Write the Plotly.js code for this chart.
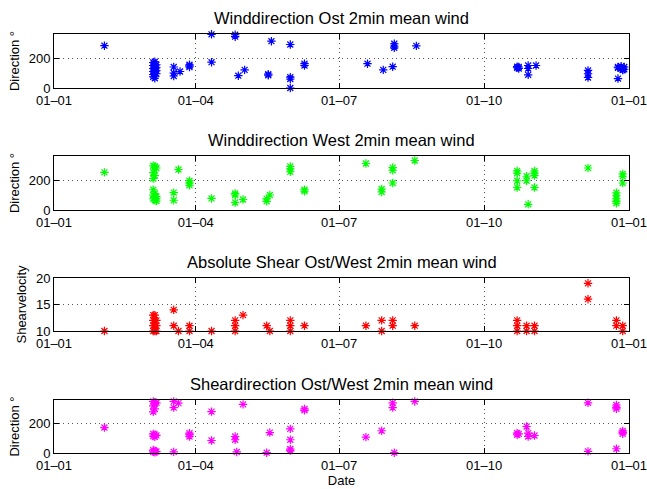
<!DOCTYPE html>
<html>
<head>
<meta charset="utf-8">
<script src="https://cdn.plot.ly/plotly-3.0.1.min.js"></script>
<style>html,body{margin:0;padding:0;background:#fff;}#chart{width:647px;height:489px;}</style>
</head>
<body>
<div id="chart"></div>
<script>
// ---- Data ----
const tickVals = ['2009-01-01', '2009-04-01', '2009-07-01', '2009-10-01', '2010-01-01'];
const tickText = ['01\u201301', '01\u201304', '01\u201307', '01\u201310', '01\u201301'];

const titles = [
  'Winddirection Ost 2min mean wind',
  'Winddirection West 2min mean wind',
  'Absolute Shear Ost/West 2min mean wind',
  'Sheardirection Ost/West 2min mean wind'
];
const yTitles = ['Direction \u00b0', 'Direction \u00b0', 'Shearvelocity', 'Direction \u00b0'];
const colors = ['#0000ff', '#00ff00', '#ff0000', '#ff00ff'];

// Panel 1: wind direction Ost
const ostDates = [
  '2009-02-02',
  '2009-03-05','2009-03-05','2009-03-05','2009-03-05','2009-03-05','2009-03-05',
  '2009-03-06','2009-03-06','2009-03-06','2009-03-06','2009-03-06','2009-03-06','2009-03-06',
  '2009-03-07','2009-03-07','2009-03-07','2009-03-07',
  '2009-03-18','2009-03-18','2009-03-18',
  '2009-03-22',
  '2009-03-28','2009-03-28','2009-03-28',
  '2009-04-11','2009-04-11',
  '2009-04-26','2009-04-26',
  '2009-04-28',
  '2009-05-02',
  '2009-05-17','2009-05-17',
  '2009-05-19',
  '2009-05-31','2009-05-31','2009-05-31','2009-05-31',
  '2009-06-09','2009-06-09',
  '2009-07-19',
  '2009-07-29',
  '2009-08-04',
  '2009-08-05','2009-08-05','2009-08-05',
  '2009-08-19',
  '2009-10-22','2009-10-22',
  '2009-10-23','2009-10-23',
  '2009-10-29','2009-10-29','2009-10-29',
  '2009-11-03',
  '2009-12-06','2009-12-06','2009-12-06',
  '2009-12-25','2009-12-25','2009-12-25',
  '2009-12-27','2009-12-27',
  '2009-12-28','2009-12-28',
  '2009-12-29','2009-12-29'
];
const ostDir = [
  282,
  170, 150, 130, 110, 90, 75,
  175, 160, 140, 120, 100, 80, 65,
  155, 135, 115, 95,
  140, 100, 80,
  110,
  155, 148, 140,
  358, 172,
  355, 342,
  82,
  121,
  92, 85,
  312,
  290, 72, 60, 0,
  162, 150,
  162,
  121,
  142,
  295, 280, 268,
  281,
  142, 135,
  140, 130,
  150, 130, 88,
  150,
  117, 95, 70,
  140, 135, 63,
  145, 130,
  125, 120,
  140, 125
];

// Panel 2: wind direction West
const westDates = [
  '2009-02-02',
  '2009-03-05','2009-03-05','2009-03-05','2009-03-05','2009-03-05','2009-03-05',
  '2009-03-06','2009-03-06','2009-03-06','2009-03-06','2009-03-06','2009-03-06',
  '2009-03-07','2009-03-07','2009-03-07','2009-03-07',
  '2009-03-18','2009-03-18',
  '2009-03-21',
  '2009-03-28','2009-03-28','2009-03-28',
  '2009-04-11',
  '2009-04-26','2009-04-26','2009-04-26',
  '2009-05-01',
  '2009-05-16','2009-05-16',
  '2009-05-18',
  '2009-05-31','2009-05-31','2009-05-31',
  '2009-06-09','2009-06-09',
  '2009-07-18',
  '2009-07-28','2009-07-28',
  '2009-08-04','2009-08-04','2009-08-04',
  '2009-08-18',
  '2009-10-22','2009-10-22','2009-10-22','2009-10-22',
  '2009-10-28','2009-10-28',
  '2009-10-29',
  '2009-11-02','2009-11-02','2009-11-02','2009-11-02',
  '2009-12-06',
  '2009-12-24','2009-12-24','2009-12-24','2009-12-24','2009-12-24',
  '2009-12-28','2009-12-28','2009-12-28'
];
const westDir = [
  251,
  295, 250, 210, 135, 100, 75,
  290, 285, 230, 110, 85, 65,
  280, 90, 75, 60,
  116, 65,
  270,
  195, 180, 165,
  77,
  110, 100, 50,
  70,
  58, 74,
  100,
  290, 275, 255,
  135, 125,
  310,
  140, 120,
  283, 265, 180,
  330,
  260, 245, 195, 150,
  225, 195,
  38,
  260, 245, 230, 150,
  280,
  115, 95, 75, 58, 45,
  240, 225, 180
];

// Panel 3: absolute shear velocity
const shearDates = [
  '2009-02-02',
  '2009-03-05','2009-03-05','2009-03-05','2009-03-05',
  '2009-03-06','2009-03-06','2009-03-06','2009-03-06',
  '2009-03-07','2009-03-07','2009-03-07',
  '2009-03-18','2009-03-18',
  '2009-03-21',
  '2009-03-28','2009-03-28',
  '2009-04-11',
  '2009-04-26','2009-04-26','2009-04-26',
  '2009-05-01',
  '2009-05-16',
  '2009-05-18',
  '2009-05-31','2009-05-31','2009-05-31',
  '2009-06-09',
  '2009-07-18',
  '2009-07-28','2009-07-28',
  '2009-08-04','2009-08-04',
  '2009-08-18',
  '2009-10-22','2009-10-22','2009-10-22',
  '2009-10-28','2009-10-28',
  '2009-11-02','2009-11-02',
  '2009-12-06','2009-12-06',
  '2009-12-24','2009-12-24',
  '2009-12-28','2009-12-28'
];
const shearVel = [
  10,
  13, 12, 11, 10,
  13, 12, 11, 10,
  12, 11, 10,
  14, 11,
  10,
  11, 10,
  10,
  12, 11, 10,
  13,
  11,
  10,
  12, 11, 10,
  11,
  11,
  12, 10,
  12, 11,
  11,
  12, 11, 10,
  11, 10,
  11, 10,
  19, 16,
  12, 11,
  11, 10
];

// Panel 4: shear direction
const shearDirDates = [
  '2009-02-02',
  '2009-03-05','2009-03-05','2009-03-05','2009-03-05','2009-03-05','2009-03-05','2009-03-05',
  '2009-03-06','2009-03-06','2009-03-06','2009-03-06','2009-03-06','2009-03-06','2009-03-06',
  '2009-03-07','2009-03-07','2009-03-07',
  '2009-03-18','2009-03-18','2009-03-18',
  '2009-03-21',
  '2009-03-28','2009-03-28','2009-03-28',
  '2009-04-11','2009-04-11',
  '2009-04-26','2009-04-26',
  '2009-04-27',
  '2009-05-01',
  '2009-05-16',
  '2009-05-18',
  '2009-05-31','2009-05-31','2009-05-31','2009-05-31',
  '2009-06-09','2009-06-09',
  '2009-07-18',
  '2009-07-28',
  '2009-08-04','2009-08-04',
  '2009-08-05',
  '2009-08-18',
  '2009-10-22','2009-10-22',
  '2009-10-23',
  '2009-10-28',
  '2009-10-29','2009-10-29',
  '2009-11-02',
  '2009-12-06','2009-12-06',
  '2009-12-24','2009-12-24','2009-12-24','2009-12-24',
  '2009-12-28','2009-12-28','2009-12-28'
];
const shearDir = [
  173,
  350, 320, 280, 130, 115, 20, 8,
  345, 335, 300, 125, 110, 15, 5,
  340, 120, 10,
  350, 308, 8,
  339,
  135, 125, 112,
  281, 85,
  112, 90,
  7,
  330,
  2,
  139,
  164, 90, 27, 16,
  300, 290,
  108,
  151,
  341, 308,
  2,
  350,
  135, 124,
  130,
  180,
  135, 112,
  119,
  341, 11,
  326, 310, 300, 29,
  150, 140, 130
];

// ---- Build figure ----
const xs = [ostDates, westDates, shearDates, shearDirDates];
const ys = [ostDir, westDir, shearVel, shearDir];
const domains = [[0.8711, 1.0], [0.5800, 0.7088], [0.2912, 0.4177], [0.0, 0.1265]];
const yRanges = [[0, 360], [0, 360], [10, 20], [0, 360]];
const yTicks = [[0, 200], [0, 200], [10, 15, 20], [0, 200]];

const fontFam = 'Liberation Sans, Arial, Helvetica, sans-serif';
const traces = [];
const layout = {
  width: 647, height: 489,
  margin: {l: 54, r: 18, t: 34, b: 36, pad: 0},
  paper_bgcolor: '#ffffff', plot_bgcolor: '#ffffff',
  showlegend: false,
  font: {family: fontFam, size: 13, color: '#000'},
  annotations: []
};

for (let i = 0; i < 4; i++) {
  const n = i === 0 ? '' : String(i + 1);
  traces.push({
    type: 'scatter', mode: 'markers',
    x: xs[i], y: ys[i],
    xaxis: 'x' + n, yaxis: 'y' + n,
    cliponaxis: false,
    marker: {symbol: 'asterisk-open', size: 7, color: colors[i], line: {width: 1.2, color: colors[i]}},
    hoverinfo: 'x+y'
  });
  const common = {
    showline: true, linecolor: '#000', linewidth: 1, mirror: 'ticks',
    ticks: 'inside', ticklen: 5, tickcolor: '#000', tickwidth: 1,
    showgrid: true, gridcolor: '#555', gridwidth: 1, griddash: '1px,3.5px',
    zeroline: false, tickfont: {family: fontFam, size: 13, color: '#000'},
    ticklabeloverflow: 'allow',
    fixedrange: true
  };
  layout['xaxis' + n] = Object.assign({}, common, {
    type: 'date', anchor: 'y' + n, domain: [0, 1],
    range: ['2009-01-01', '2010-01-01'],
    tickmode: 'array', tickvals: tickVals, ticktext: tickText,
    title: i === 3 ? {text: 'Date', font: {size: 13, color: '#000'}, standoff: 4} : {text: ''}
  });
  layout['yaxis' + n] = Object.assign({}, common, {
    anchor: 'x' + n, domain: domains[i], range: yRanges[i],
    tickmode: 'array', tickvals: yTicks[i], ticktext: yTicks[i].map(String),
    title: {text: yTitles[i], font: {size: 13, color: '#000'}, standoff: 6}
  });
  layout.annotations.push({
    text: titles[i], xref: 'paper', yref: 'paper', x: 0.5, y: domains[i][1],
    xanchor: 'center', yanchor: 'bottom', yshift: 5, showarrow: false,
    font: {family: fontFam, size: 16.5, color: '#000'}
  });
}

Plotly.newPlot('chart', traces, layout, {displayModeBar: false, staticPlot: true});
</script>
</body>
</html>
